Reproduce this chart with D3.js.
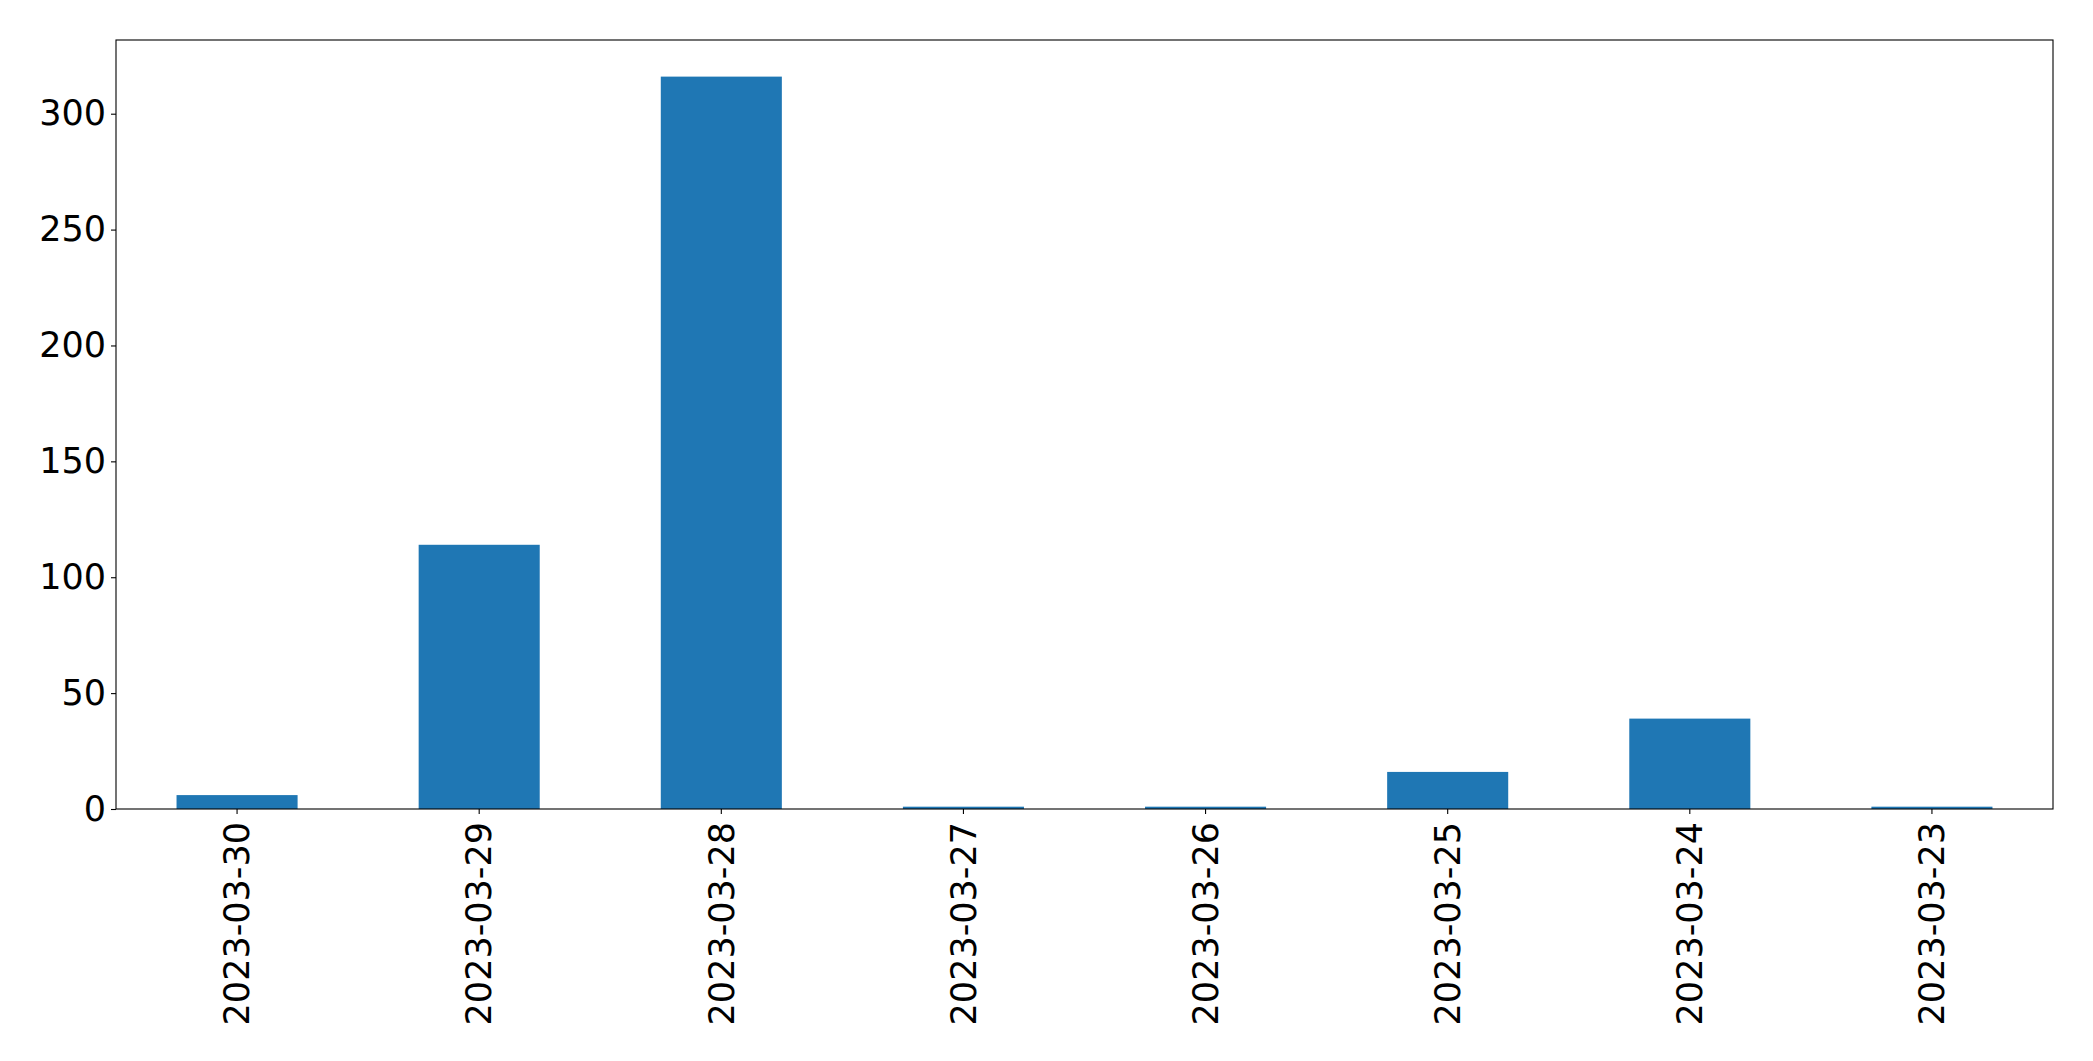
<!DOCTYPE html>
<html>
<head>
<meta charset="utf-8">
<script src="https://cdn.jsdelivr.net/npm/d3@7"></script>
<style>
  html, body { margin: 0; padding: 0; background: #fff; }
  svg { display: block; }
  text { font-family: "DejaVu Sans", sans-serif; }
</style>
</head>
<body>
<svg id="chart" width="2093" height="1061"></svg>
<script>
const categories = ["2023-03-30", "2023-03-29", "2023-03-28", "2023-03-27", "2023-03-26", "2023-03-25", "2023-03-24", "2023-03-23"];
const values = [6, 114, 316, 1, 1, 16, 39, 1];
const yTicks = [0, 50, 100, 150, 200, 250, 300];

const W = 2093, H = 1061;
const margin = { left: 116, right: 40, top: 40, bottom: 252 };
const svg = d3.select("#chart");
const plotW = W - margin.left - margin.right;
const plotH = H - margin.top - margin.bottom;

const g = svg.append("g").attr("transform", `translate(${margin.left},${margin.top})`);

const x = d3.scaleBand().domain(categories).range([0, plotW]).paddingInner(0.5).paddingOuter(0.25);
const y = d3.scaleLinear().domain([0, d3.max(values) * 1.05]).range([plotH, 0]);

g.selectAll("rect.bar").data(values).join("rect")
  .attr("class", "bar")
  .attr("x", (d, i) => x(categories[i]))
  .attr("width", x.bandwidth())
  .attr("y", d => y(d))
  .attr("height", d => plotH - y(d))
  .attr("fill", "#1f77b4");

const fontSize = 35;

const yAxis = g.append("g")
  .call(d3.axisLeft(y).tickValues(yTicks).tickSize(5).tickPadding(5).tickFormat(d3.format("d")));
yAxis.select(".domain").remove();
yAxis.selectAll("line").attr("stroke", "#000").attr("stroke-width", 1.1);
yAxis.selectAll("text").attr("font-size", fontSize).attr("fill", "#000")
  .style("font-family", "'DejaVu Sans', sans-serif");

const xAxis = g.append("g").attr("transform", `translate(0,${plotH})`)
  .call(d3.axisBottom(x).tickSize(5).tickPadding(5));
xAxis.select(".domain").remove();
xAxis.selectAll("line").attr("stroke", "#000").attr("stroke-width", 1.1);
xAxis.selectAll("text")
  .attr("font-size", fontSize).attr("fill", "#000")
  .style("font-family", "'DejaVu Sans', sans-serif")
  .attr("text-anchor", "end")
  .attr("x", 0).attr("y", 0).attr("dy", "0.35em")
  .attr("transform", "translate(0,13) rotate(-90)");

g.append("rect")
  .attr("x", 0).attr("y", 0).attr("width", plotW).attr("height", plotH)
  .attr("fill", "none").attr("stroke", "#000").attr("stroke-width", 1.1);
</script>
</body>
</html>
